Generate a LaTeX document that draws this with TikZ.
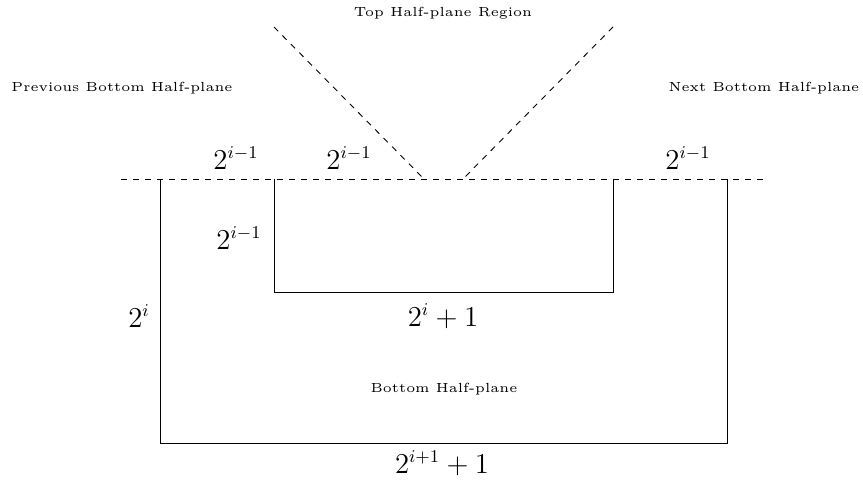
\documentclass[tikz,border=0pt]{standalone}
\begin{document}
\begin{tikzpicture}[x=0.5pt,y=-0.5pt,
  wall/.style={line width=0.5pt},
  guide/.style={dashed,line width=0.45pt},
  smalltext/.style={font=\fontsize{5}{6}\selectfont,inner sep=0pt,scale=1.32},
  dim/.style={font=\fontsize{13.5}{16}\selectfont,inner sep=0pt}]
\useasboundingbox (0,0) rectangle (863,481);
% coordinates
\coordinate (hl) at (121,179);
\coordinate (hr) at (766,179);
\coordinate (o1) at (160,179);
\coordinate (o2) at (160,443);
\coordinate (o3) at (727,443);
\coordinate (o4) at (727,179);
\coordinate (i1) at (274,179);
\coordinate (i2) at (274,292);
\coordinate (i3) at (613,292);
\coordinate (i4) at (613,179);
\coordinate (vl) at (274,27);
\coordinate (vlb) at (424,179);
\coordinate (vr) at (613,27);
\coordinate (vrb) at (463,179);
% lines
\draw[guide] (hl) -- (hr);
\draw[guide] (vl) -- (vlb);
\draw[guide] (vr) -- (vrb);
\draw[wall] (o1) -- (o2) -- (o3) -- (o4);
\draw[wall] (i1) -- (i2) -- (i3) -- (i4);
% texts
\node[smalltext] (top) at (443,13) {Top Half-plane Region};
\node[smalltext] (prev) at (122,88) {Previous Bottom Half-plane};
\node[smalltext] (next) at (764,88) {Next Bottom Half-plane};
\node[smalltext] (bot) at (444,389) {Bottom Half-plane};
\node[dim] (a1) at (236,158) {$2^{i-1}$};
\node[dim] (a2) at (349,158) {$2^{i-1}$};
\node[dim] (a3) at (688,158) {$2^{i-1}$};
\node[dim] (a4) at (239,238) {$2^{i-1}$};
\node[dim] (a5) at (139,316) {$2^{i}$};
\node[dim] (a6) at (443,316) {$2^{i}+1$};
\node[dim] (a7) at (442,463) {$2^{i+1}+1$};
\end{tikzpicture}
\end{document}
